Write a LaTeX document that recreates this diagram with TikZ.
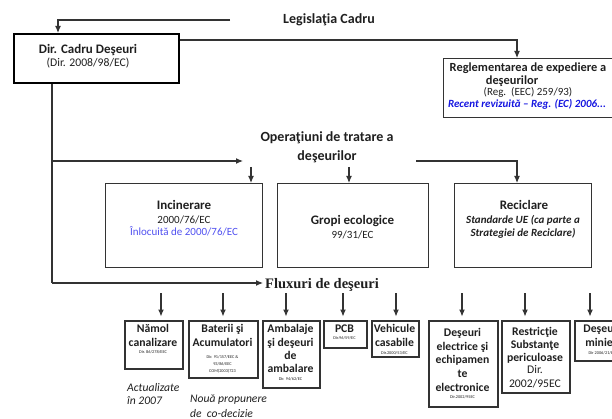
\documentclass[tikz,border=0pt]{standalone}
\usepackage{fontspec}
\setmainfont{Carlito}
\newfontfamily\fluxfont{Liberation Serif}
\usetikzlibrary{arrows.meta,calc}
\definecolor{ln}{HTML}{333333}
\definecolor{tx}{HTML}{1F1F1F}
\definecolor{bla}{HTML}{5050F0}
\definecolor{blb}{HTML}{1515E0}
\newcommand\myfs[1]{\fontsize{#1}{#1}\selectfont}
\newcommand\tlin[5]{\node[lbl,#4] (#1) at (#2,#3) {#5};}
\begin{document}
\begin{tikzpicture}[x=1pt,y=-1pt,
  conn/.style={draw=ln, line width=1.1pt},
  arr/.style={conn, -{Latex[length=7pt,width=6pt]}},
  box/.style={draw=ln, line width=1.1pt, inner sep=0pt, anchor=north west},
  dirbox/.style={box, draw=black, line width=2.2pt},
  fbox/.style={box, draw=ln, line width=1.6pt},
  lbl/.style={inner sep=0pt, anchor=base, text=tx},
  b12/.style={font=\myfs{11.7}\bfseries},
  b13/.style={font=\myfs{13}\bfseries},
  b14/.style={font=\myfs{14}\bfseries},
  r11/.style={font=\myfs{11}},
  r115/.style={font=\myfs{11.7}},
  bi/.style={font=\myfs{11}\bfseries\itshape},
  tiny/.style={font=\myfs{4.3}},
  ann/.style={lbl, anchor=base west, font=\myfs{11.6}\itshape},
]
\useasboundingbox (0,0) rectangle (612,419);

% --- top
\tlin{leg}{329}{24}{b14}{Legislaţia Cadru}
\coordinate (legL) at (230,20);

\node[dirbox, minimum width=165pt, minimum height=49pt] (dir) at (13,33) {};
\tlin{dirA}{88}{54}{b13}{Dir. Cadru Deşeuri}
\tlin{dirB}{88}{67}{r115}{(Dir. 2008/98/EC)}
\draw[arr] (legL) -| ($(dir.north west)+(45,0)$);

\node[box, minimum width=172pt, minimum height=59pt] (regl) at (443,58) {};
\tlin{rgA}{528}{71.5}{font=\myfs{12.4}\bfseries}{Reglementarea de expediere a}
\tlin{rgB}{512}{84.5}{font=\myfs{12.4}\bfseries}{deşeurilor}
\tlin{rgC}{528}{96}{r11}{(Reg.\ \ (EEC) 259/93)}
\tlin{rgD}{527}{108}{bi,text=blb}{Recent revizuită – Reg. (EC) 2006...}
\coordinate (d1) at ($(dir.north east)+(0,7)$);
\draw[arr] (d1) -| ($(regl.north west)+(74,0)$);

% --- operations
\tlin{opA}{327}{141.5}{b14}{Operaţiuni de tratare a}
\tlin{opB}{327}{161}{b14}{deşeurilor}
\coordinate (j1) at (52,161);
\coordinate (opin) at (243,161);
\coordinate (opR) at (416,161);
\coordinate (opI) at (251,167);
\coordinate (opG) at (349,167);

\node[box, minimum width=157pt, minimum height=84pt] (inc) at (105,183) {};
\tlin{incA}{184}{209.5}{b13}{Incinerare}
\tlin{incB}{184}{224}{r11}{2000/76/EC}
\tlin{incC}{184}{236}{r11,text=bla}{Înlocuită de 2000/76/EC}

\node[box, minimum width=151pt, minimum height=84pt] (gro) at (277,183) {};
\tlin{groA}{352.5}{224.5}{b13}{Gropi ecologice}
\tlin{groB}{352.5}{239}{r11}{99/31/EC}

\node[box, minimum width=137pt, minimum height=84pt] (rec) at (454,183) {};
\tlin{recA}{524}{209.5}{b13}{Reciclare}
\tlin{recB}{523}{224}{bi}{Standarde UE (ca parte a}
\tlin{recC}{523}{236.5}{bi}{Strategiei de Reciclare)}

\draw[arr] (j1) -- (opin);
\draw[arr] (opI) -- (opI |- inc.north);
\draw[arr] (opG) -- (opG |- gro.north);
\draw[arr] (opR) -| ($(rec.north west)+(63,0)$);

% --- waste streams
\node[lbl, anchor=base west, font=\fluxfont\myfs{14.5}\bfseries] (flux) at (265,288) {Fluxuri de deşeuri};
\coordinate (j2) at (52,283);
\draw[conn] (dir.south -| j2) -- (j2);
\draw[arr, shorten >=2pt] (j2) -- (j2 -| flux.west);

\node[fbox, minimum width=58pt, minimum height=48pt] (nam) at (124,320) {};
\tlin{namA}{153}{332}{b12}{Nămol}
\tlin{namB}{153}{346}{b12}{canalizare}
\tlin{namC}{153}{353.5}{tiny}{Dir. 86/278/EEC}

\node[fbox, minimum width=69pt, minimum height=57pt] (bat) at (188,320) {};
\tlin{batA}{222.5}{332}{b12}{Baterii şi}
\tlin{batB}{222.5}{346}{b12}{Acumulatori}
\tlin{batC}{222.5}{358.5}{tiny}{Dir. 91/157/EEC \&}
\tlin{batD}{222.5}{365}{tiny}{93/86/EEC}
\tlin{batE}{222.5}{372}{tiny}{COM(2003)723}

\node[fbox, minimum width=57pt, minimum height=67pt] (amb) at (262,320) {};
\tlin{ambA}{290.5}{332}{b12}{Ambalaje}
\tlin{ambB}{290.5}{346}{b12}{şi deşeuri}
\tlin{ambC}{290.5}{359}{b12}{de}
\tlin{ambD}{290.5}{372}{b12}{ambalare}
\tlin{ambE}{290.5}{380.5}{tiny}{Dir. 94/62/EC}

\node[fbox, minimum width=43pt, minimum height=27pt] (pcb) at (323,320) {};
\tlin{pcbA}{344.5}{332}{b12}{PCB}
\tlin{pcbB}{344.5}{339.5}{tiny}{Dir.96/59/EC}

\node[fbox, minimum width=47pt, minimum height=36pt] (veh) at (371,320) {};
\tlin{vehA}{394.5}{332}{b12}{Vehicule}
\tlin{vehB}{394.5}{346}{b12}{casabile}
\tlin{vehC}{394.5}{354.5}{tiny}{Dir.2000/53/EC}

\node[fbox, minimum width=69pt, minimum height=86pt] (ele) at (428,320) {};
\tlin{eleA}{462.5}{336}{b12}{Deşeuri}
\tlin{eleB}{462.5}{350}{b12}{electrice şi}
\tlin{eleC}{462.5}{363}{b12}{echipamen}
\tlin{eleD}{462.5}{377}{b12}{te}
\tlin{eleE}{462.5}{391}{b12}{electronice}
\tlin{eleF}{462.5}{398.5}{tiny}{Dir.2002/95EC}

\node[fbox, minimum width=68pt, minimum height=72pt] (res) at (501,320) {};
\tlin{resA}{535}{335}{b12}{Restricţie}
\tlin{resB}{535}{348}{b12}{Substanţe}
\tlin{resC}{535}{361}{b12}{periculoase}
\tlin{resD}{535}{373}{r115}{Dir.}
\tlin{resE}{535}{387}{r115}{2002/95EC}

\node[fbox, minimum width=62pt, minimum height=40pt] (min) at (574,320) {};
\tlin{minA}{602}{332}{b12}{Deşeuri}
\tlin{minB}{604}{346}{b12}{miniere}
\tlin{minC}{602}{354.5}{tiny}{Dir 2006/21/EC}

\foreach \xx/\bb in {161/nam,223/bat,286/amb,343/pcb,396/veh,462/ele,525/res,590/min}{
  \coordinate (s-\bb) at (\xx,293);
  \draw[arr, shorten >=3.5pt] (s-\bb) -- (s-\bb |- \bb.north);
}

\node[ann] (act1) at (127,391) {Actualizate};
\node[ann] (act2) at (127,404) {în 2007};
\node[ann] (nou1) at (190,402) {Nouă propunere};
\node[ann] (nou2) at (190,417) {de\ \ co-decizie};
\end{tikzpicture}
\end{document}
